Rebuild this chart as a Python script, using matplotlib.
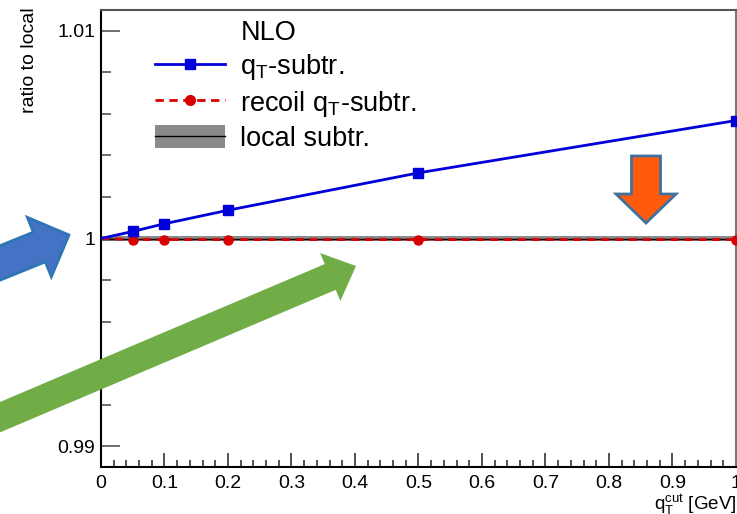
import numpy as np
import matplotlib
matplotlib.use("Agg")
import matplotlib.pyplot as plt
from matplotlib.lines import Line2D
from matplotlib.patches import Patch, FancyArrow
from matplotlib.ticker import FixedLocator, FixedFormatter, MultipleLocator
from matplotlib.transforms import Affine2D

plt.rcParams['font.family'] = ['Liberation Sans', 'DejaVu Sans']
plt.rcParams['mathtext.fontset'] = 'custom'
plt.rcParams['mathtext.rm'] = 'Liberation Sans'
plt.rcParams['mathtext.it'] = 'Liberation Sans:italic'

# data
qt_cut = [0.0, 0.05, 0.1, 0.2, 0.5, 1.0]
qt_subtr = [1.0, 1.00034, 1.00071, 1.00136, 1.00316, 1.00568]
recoil_subtr = [1.0, 0.99995, 0.99995, 0.99995, 0.99995, 0.99995]
local_x = [0.0, 1.0]
local_val = [1.0, 1.0]
local_err = 0.00012

y_ticks = [0.99, 1.0, 1.01]
y_ticklabels = ["0.99", "1", "1.01"]
x_ticks = [0, 0.1, 0.2, 0.3, 0.4, 0.5, 0.6, 0.7, 0.8, 0.9, 1]
x_ticklabels = ["0", "0.1", "0.2", "0.3", "0.4", "0.5", "0.6", "0.7", "0.8", "0.9", "1"]

W, H = 737, 514
fig = plt.figure(figsize=(W / 100, H / 100), dpi=100)
ax = fig.add_axes([101 / W, 1 - 467 / H, 635 / W, 457 / H])

blue = '#0000d8'
red = '#d80000'

# local band
ax.fill_between(local_x, np.array(local_val) - local_err, np.array(local_val) + local_err,
                color='#8a8a8a', lw=0, zorder=1)
ax.plot(local_x, local_val, color='black', lw=1.0, zorder=2)

ax.plot(qt_cut, recoil_subtr, color=red, lw=2, ls=(0, (3, 2)), marker='o', ms=6.5,
        markevery=list(range(1, len(qt_cut))), zorder=3)
ax.plot(qt_cut, qt_subtr, color=blue, lw=2, marker='s', ms=6.5,
        markevery=list(range(1, len(qt_cut))), zorder=4)

ax.set_xlim(0, 1)
ax.set_ylim(0.989, 1.011)

ax.xaxis.set_major_locator(FixedLocator(x_ticks))
ax.xaxis.set_major_formatter(FixedFormatter(x_ticklabels))
ax.xaxis.set_minor_locator(MultipleLocator(0.02))
ax.yaxis.set_major_locator(FixedLocator(y_ticks))
ax.yaxis.set_major_formatter(FixedFormatter(y_ticklabels))
ax.yaxis.set_minor_locator(MultipleLocator(0.002))

ax.tick_params(axis='x', which='major', direction='in', length=10, width=1.2, color='#333333',
               labelsize=14, pad=6)
ax.tick_params(axis='x', which='minor', direction='in', length=5, width=1.2, color='#333333')
ax.tick_params(axis='y', which='major', direction='in', length=14, width=1.2, color='#555555',
               labelsize=14, pad=4)
ax.tick_params(axis='y', which='minor', direction='in', length=7, width=1.2, color='#555555')

for s in ax.spines.values():
    s.set_linewidth(1.5)
ax.spines['top'].set_color('#555555')
ax.spines['right'].set_color('#777777')

ax.text(-71 / 635, 1.005, "ratio to local", transform=ax.transAxes, rotation=90,
        ha='center', va='top', fontsize=14)
ax.set_xlabel(r"q$_{\mathrm{T}}^{\mathrm{cut}}$ [GeV]", loc='right', fontsize=13.5, labelpad=0)

# legend
h_head = Line2D([], [], color='none')
h_qt = Line2D([], [], color=blue, lw=2, marker='s', ms=7)
h_rec = Line2D([], [], color=red, lw=2, ls=(0, (3, 2)), marker='o', ms=7)
h_loc = (Patch(facecolor='#8a8a8a', edgecolor='none'), Line2D([], [], color='black', lw=1))
leg = ax.legend([h_head, h_qt, h_rec, h_loc],
                ["NLO", r"q$_{\mathrm{T}}$-subtr.", r"recoil q$_{\mathrm{T}}$-subtr.", "local subtr."],
                loc='upper left', bbox_to_anchor=(54 / 635, 0.98), frameon=False,
                fontsize=19.5, handlelength=2.6, handleheight=0.9, handletextpad=0.55,
                labelspacing=0.24, borderpad=0, borderaxespad=0)

# overlay arrows, drawn in pixel coordinates of the picture
px = Affine2D().scale(1 / W, -1 / H).translate(0, 1) + fig.transFigure


def arrow(x0, y0, x1, y1, width, hw, hl, fc, ec=None, lw=0):
    a = FancyArrow(x0, y0, x1 - x0, y1 - y0, width=width, head_width=hw, head_length=hl,
                   length_includes_head=True, transform=px, facecolor=fc,
                   edgecolor=ec if ec else fc, linewidth=lw, zorder=10)
    fig.add_artist(a)


arrow(-52, 284, 69, 235, 32, 64, 32, '#4472c4', '#2e75b6', 2)
arrow(-49, 438, 356, 266, 28, 52, 28, '#70ad47')
arrow(646, 156, 646, 223, 29, 60, 29, '#ff5b0a', '#41719c', 2)

fig.savefig("out.png", dpi=100)
